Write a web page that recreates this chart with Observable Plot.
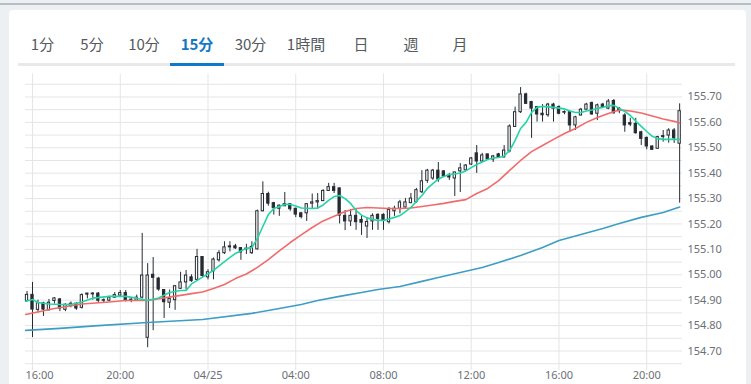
<!DOCTYPE html>
<html><head><meta charset="utf-8">
<script src="https://cdn.jsdelivr.net/npm/d3@7"></script>
<script src="https://cdn.jsdelivr.net/npm/@observablehq/plot@0.6"></script>
<style>
html,body{margin:0;padding:0;}
body{width:751px;height:384px;overflow:hidden;background:#edf0f3;position:relative;font-family:"Noto Sans CJK JP","Noto Sans",sans-serif;}
#topline{position:absolute;left:0;top:3px;width:751px;height:2px;background:#b9bcc0;}
#card{position:absolute;left:9px;top:10px;width:737px;height:390px;background:#fff;border-radius:4px;}
#tabs{position:absolute;left:0;top:0;width:751px;height:70px;}
.tab{position:absolute;top:34px;transform:translateX(-50%);font-size:15px;color:#555a60;line-height:20px;white-space:nowrap;}
.tab.active{color:#1479c4;font-weight:bold;}
#tabline{position:absolute;left:18px;top:63px;width:717px;height:3px;background:#e8e9eb;}
#tabactive{position:absolute;left:170px;top:63px;width:54px;height:3px;background:#0f7acb;}
#chart{position:absolute;left:0;top:70px;width:751px;height:314px;}
</style></head>
<body>
<div id="topline"></div>
<div id="card"></div>
<div id="tabs"><div id="tabline"></div><div id="tabactive"></div></div>
<div id="chart"></div>
<script>
// ---- tabs ----
const tabLabels = ["1分","5分","10分","15分","30分","1時間","日","週","月"];
const tabCenters = [42.5,92,144,197,250.5,306,361,411,460];
const activeTab = "15分";

// ---- candles (15-minute, from 04/24 15:45) ----
const startTime = "2024-04-24T15:45";
const opens = [154.896,154.921,154.862,154.888,154.860,154.897,154.903,154.862,154.877,154.886,
154.870,154.926,154.926,154.926,154.900,154.898,154.910,154.918,154.928,154.902,
154.898,154.910,154.752,155.000,154.985,154.940,154.890,154.900,154.945,154.970,
154.990,154.980,155.070,154.990,155.013,155.057,155.085,155.108,155.112,155.105,
155.100,155.085,155.100,155.250,155.318,155.282,155.260,155.270,155.278,155.260,
155.242,155.242,155.280,155.285,155.290,155.330,155.345,155.340,155.232,155.210,
155.232,155.216,155.190,155.210,155.236,155.236,155.207,155.250,155.260,155.265,
155.282,155.286,155.325,155.370,155.379,155.410,155.407,155.391,155.379,155.407,
155.411,155.434,155.478,155.446,155.474,155.454,155.474,155.462,155.485,155.582,
155.640,155.710,155.680,155.660,155.634,155.628,155.670,155.660,155.638,155.640,
155.588,155.627,155.650,155.676,155.634,155.670,155.654,155.684,155.654,155.627,
155.597,155.594,155.561,155.539,155.505,155.496,155.542,155.548,155.568,155.516];
const highs = [154.934,154.970,154.900,154.892,154.903,154.910,154.907,154.886,154.893,154.890,
154.925,154.927,154.930,154.930,154.905,154.916,154.930,154.938,154.938,154.910,
154.920,155.163,155.044,155.068,154.990,154.942,154.940,154.958,155.010,155.017,
155.000,155.100,155.072,155.020,155.066,155.095,155.130,155.130,155.120,155.107,
155.120,155.130,155.255,155.366,155.325,155.285,155.275,155.324,155.280,155.262,
155.245,155.280,155.318,155.320,155.335,155.360,155.360,155.342,155.253,155.257,
155.260,155.232,155.225,155.240,155.240,155.240,155.265,155.270,155.293,155.300,
155.320,155.340,155.410,155.415,155.415,155.442,155.410,155.399,155.403,155.438,
155.434,155.462,155.509,155.478,155.474,155.470,155.478,155.509,155.590,155.660,
155.737,155.715,155.683,155.663,155.670,155.675,155.675,155.665,155.645,155.643,
155.624,155.655,155.675,155.680,155.672,155.675,155.690,155.690,155.658,155.634,
155.616,155.616,155.565,155.542,155.508,155.545,155.568,155.575,155.576,155.673];
const lows = [154.893,154.753,154.850,154.836,154.858,154.885,154.855,154.855,154.870,154.860,
154.865,154.905,154.900,154.890,154.890,154.895,154.907,154.915,154.893,154.890,
154.895,154.905,154.713,154.780,154.935,154.828,154.867,154.860,154.942,154.940,
154.970,154.978,154.990,154.980,154.980,155.050,155.080,155.090,155.100,155.057,
155.080,155.080,155.098,155.248,155.270,155.235,155.230,155.268,155.250,155.225,
155.220,155.210,155.260,155.258,155.288,155.328,155.320,155.200,155.174,155.190,
155.175,155.155,155.143,155.175,155.175,155.175,155.200,155.230,155.240,155.262,
155.280,155.282,155.320,155.360,155.372,155.364,155.383,155.371,155.308,155.324,
155.410,155.430,155.399,155.442,155.450,155.442,155.458,155.460,155.480,155.580,
155.635,155.670,155.537,155.601,155.601,155.620,155.601,155.630,155.630,155.561,
155.568,155.625,155.648,155.628,155.607,155.655,155.650,155.632,155.634,155.561,
155.583,155.554,155.509,155.492,155.490,155.494,155.522,155.518,155.517,155.282];
const closes = [154.921,154.863,154.888,154.863,154.890,154.907,154.867,154.882,154.886,154.867,
154.920,154.922,154.923,154.898,154.898,154.910,154.920,154.928,154.898,154.900,
154.910,154.997,154.997,154.988,154.942,154.892,154.905,154.955,154.970,154.997,
154.975,155.070,154.995,155.010,155.060,155.085,155.108,155.112,155.104,155.088,
155.103,155.110,155.250,155.318,155.280,155.262,155.272,155.278,155.258,155.237,
155.227,155.278,155.285,155.290,155.330,155.345,155.330,155.233,155.210,155.232,
155.207,155.205,155.208,155.232,155.220,155.213,155.255,155.260,155.285,155.285,
155.300,155.333,155.368,155.410,155.410,155.375,155.387,155.383,155.403,155.419,
155.430,155.458,155.446,155.470,155.454,155.466,155.462,155.489,155.584,155.640,
155.710,155.673,155.654,155.631,155.628,155.670,155.654,155.634,155.641,155.588,
155.620,155.650,155.670,155.631,155.667,155.657,155.682,155.636,155.644,155.588,
155.591,155.557,155.535,155.505,155.492,155.542,155.546,155.568,155.537,155.644];

// ---- moving averages (candle index -> price) ----
const maShortIdx = [-0.25,1,2,4,6,8,10,12,15,18,20,22,24,26,28,29,30,32,34,36,38,40,41,42,43,44,45,46,47,48,49,50,52,53,54,55,56,57,58,59,60,61,62,63,64,65,66,67,68,69,70,71,72,73,74,75,76,77,78,79,80,81,82,83,84,85,86,87,88,89,90,91,92,93,94,96,98,99,100,101,102,103,104,105,106,107,108,109,110,111,112,113,114,115,116,117,118,119];
const maShortVal = [154.896,154.903,154.891,154.885,154.883,154.883,154.893,154.908,154.915,154.915,154.908,154.899,154.909,154.930,154.938,154.938,154.964,154.991,155.017,155.052,155.084,155.104,155.107,155.143,155.190,155.237,155.261,155.269,155.277,155.277,155.271,155.263,155.261,155.263,155.275,155.293,155.308,155.312,155.300,155.281,155.253,155.235,155.224,155.218,155.214,155.214,155.220,155.226,155.233,155.249,155.265,155.289,155.312,155.340,155.359,155.377,155.387,155.395,155.397,155.401,155.409,155.422,155.434,155.444,155.454,155.460,155.462,155.468,155.489,155.529,155.576,155.600,155.639,155.659,155.663,155.659,155.653,155.645,155.639,155.639,155.645,155.649,155.655,155.659,155.665,155.667,155.655,155.643,155.627,155.605,155.584,155.564,155.545,155.536,155.533,155.533,155.533,155.533];
const maMidIdx = [-0.25,5,10,15,18,22,25,28,30,32,34,36,38,40,42,44,46,48,50,52,54,56,58,60,62,64,66,68,70,72,74,76,78,80,82,84,86,88,90,92,94,96,98,100,102,104,106,108,110,112,114,116,118,119];
const maMidVal = [154.844,154.867,154.885,154.893,154.899,154.899,154.909,154.919,154.926,154.932,154.946,154.962,154.985,155.003,155.029,155.060,155.094,155.127,155.157,155.186,155.212,155.230,155.249,155.261,155.265,155.263,155.261,155.261,155.263,155.269,155.275,155.281,155.289,155.296,155.320,155.340,155.371,155.411,155.450,155.485,155.509,155.533,155.556,155.576,155.600,155.619,155.635,155.649,155.645,155.637,155.625,155.613,155.604,155.598];
const maLongIdx = [-0.25,6,13,22,32,41,46,50,53,57,61,64,68,72,75,79,83,86,90,94,97,101,105,108,112,116,119];
const maLongVal = [154.781,154.789,154.800,154.812,154.824,154.848,154.867,154.883,154.899,154.915,154.930,154.942,154.954,154.974,154.989,155.009,155.029,155.048,155.076,155.107,155.135,155.159,155.182,155.202,155.226,155.245,155.267];

// ---- axes ----
const xTickTimes = ["2024-04-24T16:00","2024-04-24T20:00","2024-04-25T00:00","2024-04-25T04:00","2024-04-25T08:00","2024-04-25T12:00","2024-04-25T16:00","2024-04-25T20:00"];
const xTickLabels = ["16:00","20:00","04/25","04:00","08:00","12:00","16:00","20:00"];
const yLabelTicks = [155.70,155.60,155.50,155.40,155.30,155.20,155.10,155.00,154.90,154.80,154.70];
const yGridTicks = [155.75,155.70,155.65,155.60,155.55,155.50,155.45,155.40,155.35,155.30,155.25,155.20,155.15,155.10,155.05,155.00,154.95,154.90,154.85,154.80,154.75,154.70,154.65];

// tabs
const tabsDiv = document.getElementById("tabs");
tabLabels.forEach((t, i) => {
  const s = document.createElement("div");
  s.className = "tab" + (t === activeTab ? " active" : "");
  s.style.left = tabCenters[i] + "px";
  s.textContent = t;
  tabsDiv.appendChild(s);
});

// data
const STEP = 15 * 60 * 1000;
const t0 = new Date(startTime);
const at = (i) => new Date(+t0 + i * STEP);
const candles = opens.map((o, i) => ({date: at(i), open: o, high: highs[i], low: lows[i], close: closes[i]}));
const upC = candles.filter(d => d.close >= d.open);
const downC = candles.filter(d => d.close < d.open);
const ma = (idx, val) => idx.map((k, i) => ({date: at(k), v: val[i]}));
const xTicks = xTickTimes.map((s, i) => ({date: new Date(s), label: xTickLabels[i]}));

const DARK = "#262b33", GRID = "#e4e5e7", LABEL = "#6b7078";
const half = d => new Date(+d.date - STEP / 2), half2 = d => new Date(+d.date + STEP / 2);

const chart = Plot.plot({
  width: 751, height: 314,
  marginLeft: 25, marginRight: 69, marginTop: 3.6, marginBottom: 20.8,
  style: {background: "transparent", fontFamily: '"Noto Sans", sans-serif', fontSize: "11px"},
  x: {type: "time", domain: [new Date("2024-04-24T15:40:51"), new Date("2024-04-25T21:37:47")], axis: null},
  y: {domain: [154.65, 155.79], axis: null},
  marks: [
    Plot.gridY(yGridTicks, {stroke: GRID, strokeOpacity: 1}),
    Plot.gridX(xTicks.map(d => d.date), {stroke: GRID, strokeOpacity: 1}),
    Plot.axisX(xTicks.map(d => d.date), {tickSize: 7, tickFormat: () => "", stroke: GRID, strokeOpacity: 1, label: null}),
    Plot.axisY(yLabelTicks, {anchor: "right", tickSize: 0, tickPadding: 5, tickFormat: d => d.toFixed(2), fill: LABEL, fontSize: 11, label: null}),
    Plot.text(xTicks.slice(0, 1), {x: "date", text: "label", frameAnchor: "bottom", dy: 11.3, dx: 7, lineAnchor: "middle", fill: LABEL, fontSize: 11}),
    Plot.text(xTicks.slice(1), {x: "date", text: "label", frameAnchor: "bottom", dy: 11.3, lineAnchor: "middle", fill: LABEL, fontSize: 11}),
    Plot.ruleX(candles, {x: "date", y1: "low", y2: "high", stroke: DARK, strokeWidth: 1}),
    Plot.rect(upC, {x1: half, x2: half2, y1: "open", y2: "close", insetLeft: 1.6, insetRight: 1.6, fill: "#fff", stroke: DARK, strokeWidth: 1}),
    Plot.rect(downC, {x1: half, x2: half2, y1: "open", y2: "close", insetLeft: 1.6, insetRight: 1.6, fill: DARK, stroke: DARK, strokeWidth: 1}),
    Plot.line(ma(maLongIdx, maLongVal), {x: "date", y: "v", stroke: "#3d9ec4", strokeWidth: 1.6}),
    Plot.line(ma(maMidIdx, maMidVal), {x: "date", y: "v", stroke: "#f26b6b", strokeWidth: 1.6}),
    Plot.line(ma(maShortIdx, maShortVal), {x: "date", y: "v", stroke: "#22d4a6", strokeWidth: 1.6})
  ]
});
document.getElementById("chart").appendChild(chart);
</script>
</body></html>
